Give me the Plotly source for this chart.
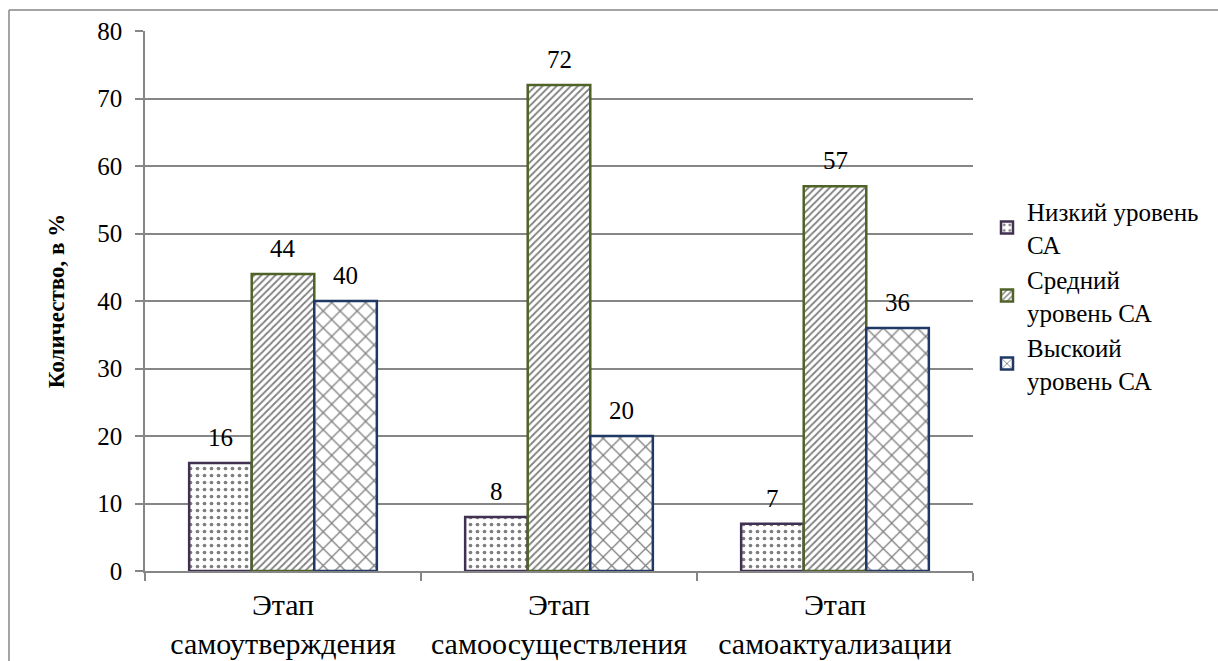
import plotly.graph_objects as go

categories = ["Этап<br>самоутверждения", "Этап<br>самоосуществления", "Этап<br>самоактуализации"]
series_names = ["Низкий уровень<br>СА", "Средний<br>уровень СА", "Выскоий<br>уровень СА"]
low_values = [16, 8, 7]
mid_values = [44, 72, 57]
high_values = [40, 20, 36]

series_values = [low_values, mid_values, high_values]
outline_colors = ["#403152", "#4F6228", "#1F3864"]
shapes_fill = [".", "/", "x"]
pattern_sizes = [7, 5, 12]
pattern_solidity = [0.22, 0.35, 0.2]

FONT = "Liberation Serif"

# plot area: x 145..973, y 31..571 (pixels)
L, R, T, B = 145, 973, 31, 571
W, H = 1218, 661
pw, ph = R - L, B - T
BARGAP = 0.32
n_series = len(series_values)
bar_px = pw / len(categories) * (1 - BARGAP) / n_series


def px_to_paper_x(px):
    return (px - L) / pw


def px_to_paper_y(py):
    return (B - py) / ph


fig = go.Figure()
annotations = []
for i, (name, vals, col, shp, sz, sol) in enumerate(zip(series_names, series_values, outline_colors,
                                                         shapes_fill, pattern_sizes, pattern_solidity)):
    fig.add_trace(go.Bar(
        x=categories, y=vals, name=name,
        marker=dict(
            color="white",
            line=dict(color=col, width=2.5),
            pattern=dict(shape=shp, fgcolor="black", bgcolor="white",
                         size=sz, solidity=sol, fillmode="overlay"),
        ),
    ))
    # value labels above each bar
    for cat, v in zip(categories, vals):
        annotations.append(dict(
            x=cat, y=v, xref="x", yref="y", text=str(v), showarrow=False,
            xshift=(i - (n_series - 1) / 2) * bar_px, yshift=10,
            yanchor="bottom", font=dict(family=FONT, size=25, color="black"),
        ))

fig.update_layout(
    width=W, height=H,
    margin=dict(l=L, r=W - R, t=T, b=H - B, autoexpand=False),
    paper_bgcolor="white", plot_bgcolor="white",
    barmode="group", bargap=BARGAP, bargroupgap=0,
    font=dict(family=FONT, color="black"),
    annotations=annotations,
    legend=dict(
        x=px_to_paper_x(987), y=0.51,
        xanchor="left", yanchor="middle",
        font=dict(family=FONT, size=25, color="black"),
        tracegroupgap=10, itemwidth=30,
        bgcolor="rgba(0,0,0,0)",
    ),
    xaxis=dict(
        showline=True, linecolor="#868686", linewidth=1.5,
        ticks="outside", ticklen=8, tickcolor="#868686", tickwidth=1.5,
        tickson="boundaries", ticklabelstandoff=6,
        tickfont=dict(family=FONT, size=30, color="black"),
        showgrid=False,
    ),
    yaxis=dict(
        range=[0, 80], dtick=10,
        showline=True, linecolor="#868686", linewidth=1.5,
        ticks="outside", ticklen=8, tickcolor="#868686", tickwidth=1.5,
        ticklabelstandoff=8,
        showgrid=True, gridcolor="#868686", gridwidth=1.5,
        tickfont=dict(family=FONT, size=25, color="black"),
        title=dict(text="<b>Количество, в %</b>",
                   font=dict(family=FONT, size=23, color="black"), standoff=26),
        zeroline=False,
    ),
    shapes=[
        dict(type="line", xref="paper", yref="paper",
             x0=px_to_paper_x(9), x1=px_to_paper_x(1230),
             y0=px_to_paper_y(10), y1=px_to_paper_y(10),
             line=dict(color="#868686", width=1.5)),
        dict(type="line", xref="paper", yref="paper",
             x0=px_to_paper_x(9), x1=px_to_paper_x(9),
             y0=px_to_paper_y(10), y1=px_to_paper_y(680),
             line=dict(color="#868686", width=1.5)),
    ],
)

fig.write_html("out.html")
